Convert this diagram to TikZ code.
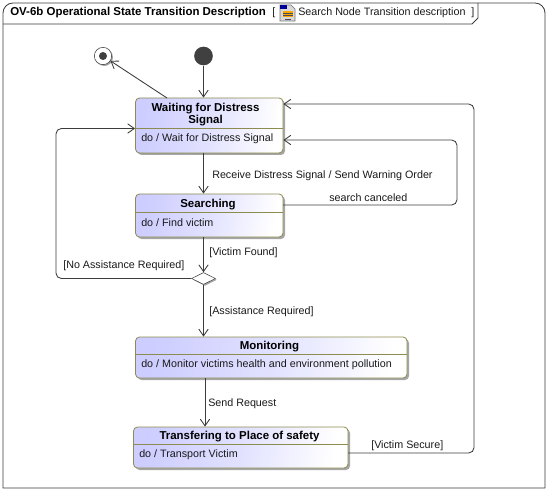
\documentclass[tikz,border=0pt]{standalone}
\usepackage{fontspec}
\setmainfont{Liberation Sans}
\usetikzlibrary{shadows,arrows.meta,shapes.geometric}
\definecolor{stateblue}{RGB}{205,205,255}
\definecolor{stateline}{RGB}{140,140,80}
\definecolor{wireline}{RGB}{60,60,60}
\tikzset{
    statebox/.style={draw=stateline, rounded corners=3pt, inner sep=0pt, line width=0.6pt,
        left color=stateblue, right color=white, middle color=stateblue!60!white, shading angle=80,
        drop shadow={shadow xshift=1.5pt, shadow yshift=-1.5pt, fill=black!35, opacity=1}},
    wire/.style={draw=wireline, line width=0.65pt, rounded corners=4pt, -{Straight Barb[length=5pt,width=7pt]}},
    plainlabel/.style={font=\fontsize{8.05}{9.5}\selectfont, inner sep=0pt, anchor=west, text=black!90},
    titlelabel/.style={font=\fontsize{8.6}{9.5}\selectfont\bfseries, inner sep=0pt, align=center, text=black},
}
\begin{document}
\begin{tikzpicture}[x=0.75pt, y=-0.75pt]
    \useasboundingbox (0,0) rectangle (548,491);
    % Frame and its tab
    \draw[wireline, line width=0.65pt] (3,13) arc[start angle=180, end angle=90, radius=7.5pt] -- (535,3)
        arc[start angle=90, end angle=0, radius=7.5pt] -- (545,488) -- (3,488) -- cycle;
    \draw[wireline, line width=0.65pt] (3,24) -- (472,24) -- (478,18) -- (478,3);
    \node[font=\fontsize{8.6}{10}\selectfont\bfseries, inner sep=0pt, anchor=west] (frametitle) at (10,12.5) {OV-6b Operational State Transition Description};
    \node[plainlabel] (bracketopen) at (272,12.5) {[};
    \node[plainlabel] (framename) at (298,12.5) {Search Node Transition description};
    \node[plainlabel] (bracketclose) at (471,12.5) {]};
    % Tab icon
    \fill[black!15] (280,5) -- (291,5) -- (295,9) -- (295,21) -- (280,21) -- cycle;
    \draw[black!55, line width=0.4pt] (280,5) -- (291,5) -- (295,9) -- (295,21) -- (280,21) -- cycle;
    \fill[blue!60!black] (280,5) rectangle (287,9);
    \fill[orange!70!yellow] (283,11) rectangle (293,17);
    \foreach \y in {13,15}{
        \draw[black!70, line width=0.3pt] (283,\y) -- (293,\y);
    }
    \draw[black!70, line width=0.5pt] (285,19) -- (291,19);
    % States
    \foreach \name/\cx/\cy/\w/\h in {waiting/209.25/125.5/147.5/55, searching/209.25/215.5/147.5/43,
                        monitoring/271.25/357.5/271.5/41, transfering/240.75/447.5/214.5/41}{
        \node[statebox, minimum width=\w*0.75pt, minimum height=\h*0.75pt] (\name) at (\cx,\cy) {};
    }
    % Dividers
    \foreach \name/\y in {waiting/128, searching/212, monitoring/354, transfering/444}{
        \draw[stateline, line width=0.6pt] (\name.west |- 0,\y) -- (\name.east |- 0,\y);
    }
    % State texts
    \node[titlelabel] (waitingtitle) at (205.5,114.5) {Waiting for Distress\\Signal};
    \node[titlelabel] (searchingtitle) at (208,204.5) {Searching};
    \node[titlelabel] (monitoringtitle) at (269.5,346.5) {Monitoring};
    \node[titlelabel] (transferingtitle) at (239.5,436.5) {Transfering to Place of safety};
    \foreach \name/\x/\y/\dotext in {waiting/141/139/Wait for Distress Signal, searching/141/223/Find victim,
                        monitoring/141/365/Monitor victims health and environment pollution, transfering/139/455/Transport Victim}{
        \node[plainlabel] (\name do) at (\x,\y) {do / \dotext};
    }
    % Pseudostates
    \node[circle, fill=black!75, minimum size=14pt, inner sep=0pt] (initial) at (203.5,56) {};
    \node[circle, draw=wireline, fill=white, minimum size=13pt, inner sep=0pt,
        drop shadow={shadow xshift=1pt, shadow yshift=-1pt, fill=black!35, opacity=1}] (final) at (103,56) {};
    \fill[black!75] (final.center) circle (3pt);
    \node[diamond, aspect=2, draw=wireline, fill=white, minimum width=18pt, minimum height=9pt, inner sep=0pt,
        drop shadow={shadow xshift=1pt, shadow yshift=-1pt, fill=black!35, opacity=1}] (choice) at (203.5,278.5) {};
    % Free ends on the states
    \coordinate (waitingexit) at (167,98);
    \coordinate (searchingexit) at (283,205);
    \coordinate (sendline) at (205,400);
    \coordinate (transferingexit) at (348,453);
    % Transitions
    \draw[wire] (initial) -- (waiting.north -| initial);
    \draw[wire] (waitingexit) -- (final);
    \draw[wire] (waiting.south -| choice) -- (searching.north -| choice);
    \draw[wire] (searching.south -| choice) -- (choice.north);
    \draw[wire] (choice.south) -- (monitoring.north -| choice);
    \draw[wire] (monitoring.south -| sendline) -- (transfering.north -| sendline);
    \draw[wire] (choice.west) -- (56,278.5) -- (56,128.5) -- (waiting.west |- 0,128.5);
    \draw[wire] (searchingexit) -- (457,205) -- (457,140) -- (waiting.east |- 0,140);
    \draw[wire] (transferingexit) -- (474,453) -- (474,104) -- (waiting.east |- 0,104);
    % Transition labels
    \node[plainlabel] (receivelabel) at (212,175.5) {Receive Distress Signal / Send Warning Order};
    \node[plainlabel] (canceledlabel) at (329,197.5) {search canceled};
    \node[plainlabel] (foundlabel) at (209,252.5) {[Victim Found]};
    \node[plainlabel] (noassistlabel) at (63,265.5) {[No Assistance Required]};
    \node[plainlabel] (assistlabel) at (209,311.5) {[Assistance Required]};
    \node[plainlabel] (sendlabel) at (208,403.5) {Send Request};
    \node[plainlabel] (securelabel) at (371,445.5) {[Victim Secure]};
\end{tikzpicture}
\end{document}
